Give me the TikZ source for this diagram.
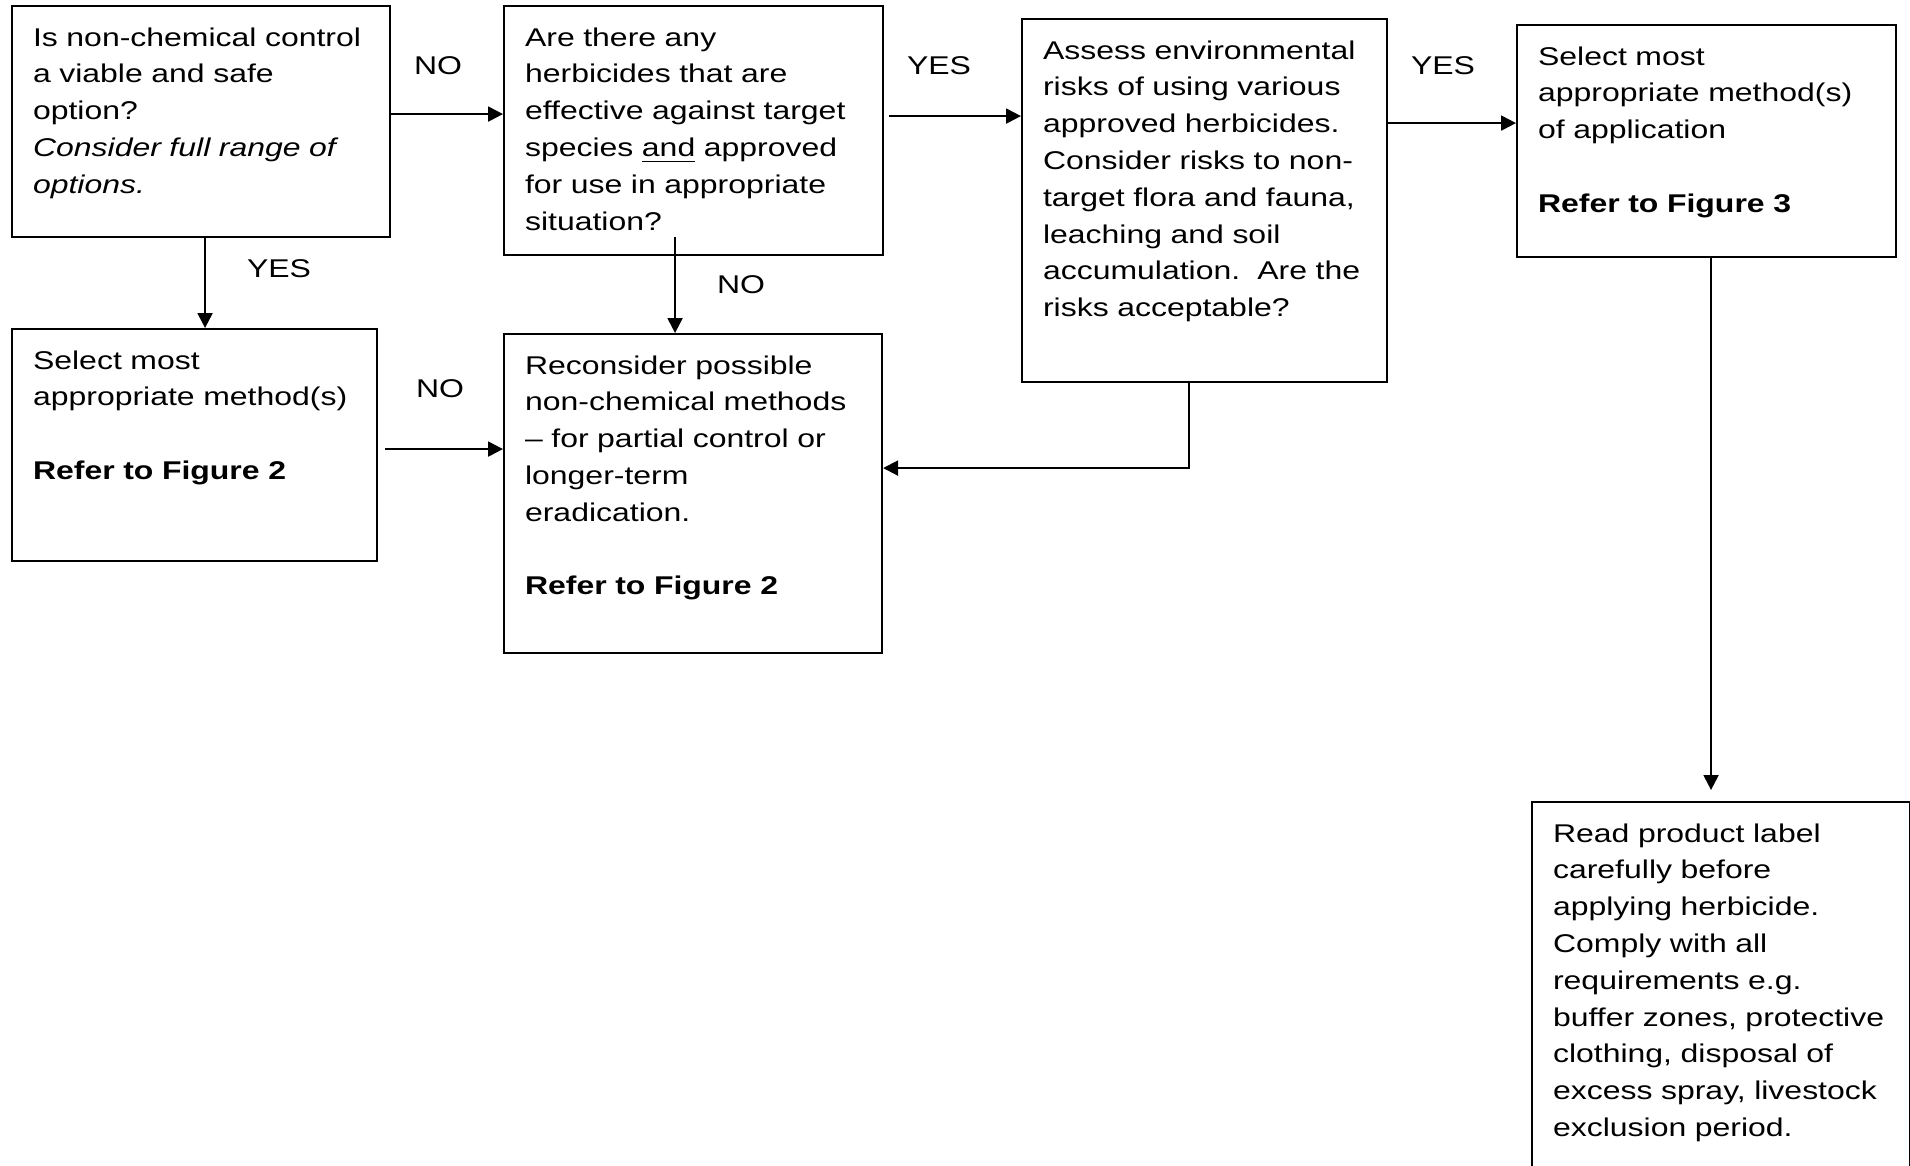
\documentclass[tikz,border=0pt]{standalone}
\usepackage{fontspec}
\setmainfont[FakeStretch=1.246]{Liberation Sans}
\usetikzlibrary{arrows.meta,calc}
\tikzset{
  basebox/.style={rectangle,draw=black,line width=0.6pt,anchor=north west,align=left,
    inner xsep=0.21cm,inner ysep=0pt,text height=0.40cm,font=\fontsize{7.3}{10.47}\selectfont},
  answer/.style={font=\fontsize{7.3}{10.47}\selectfont,inner sep=0pt},
  arr/.style={-{Triangle[length=0.15cm,width=0.15cm]},line width=0.6pt}
}
\begin{document}
\begin{tikzpicture}
  \useasboundingbox (0,0) rectangle (19.10,-11.65);
  \clip (0,0) rectangle (19.10,-11.65);

  %% Top row of questions
  \node[basebox,text width=3.36cm,text depth=1.91cm] (boxA) at (0.11,-0.05)
      {Is non-chemical control\\
       a viable and safe\\
       option?\\
       \textit{Consider full range of}\\
       \textit{options.}};

  \node[basebox,text width=3.37cm,text depth=2.09cm] (boxB) at (5.03,-0.05)
      {Are there any\\
       herbicides that are\\
       effective against target\\
       species \underline{and} approved\\
       for use in appropriate\\
       situation?};

  \node[basebox,text width=3.23cm,text depth=3.23cm] (boxC) at (10.21,-0.18)
      {Assess environmental\\
       risks of using various\\
       approved herbicides.\\
       Consider risks to non-\\
       target flora and fauna,\\
       leaching and soil\\
       accumulation.\ \ Are the\\
       risks acceptable?};

  \node[basebox,text width=3.37cm,text depth=1.92cm] (boxD) at (15.16,-0.24)
      {Select most\\
       appropriate method(s)\\
       of application\\[10.47pt]
       \textbf{Refer to Figure 3}};

  %% Second row
  \node[basebox,text width=3.23cm,text depth=1.92cm] (boxE) at (0.11,-3.28)
      {Select most\\
       appropriate method(s)\\[10.47pt]
       \textbf{Refer to Figure 2}};

  \node[basebox,text width=3.36cm,text depth=2.79cm] (boxF) at (5.03,-3.33)
      {Reconsider possible\\
       non-chemical methods\\
       -- for partial control or\\
       longer-term\\
       eradication.\\[10.47pt]
       \textbf{Refer to Figure 2}};

  %% Final step
  \node[basebox,text width=3.36cm,text depth=3.60cm] (boxG) at (15.31,-8.01)
      {Read product label\\
       carefully before\\
       applying herbicide.\\
       Comply with all\\
       requirements e.g.\\
       buffer zones, protective\\
       clothing, disposal of\\
       excess spray, livestock\\
       exclusion period.};

  %% Connectors
  \draw[arr] ([yshift=0.075cm]boxA.east) -- ([yshift=0.075cm]boxA.east -| boxB.west);
  \draw[arr] ([xshift=0.05cm,yshift=0.145cm]boxB.east) -- ([yshift=0.145cm]boxB.east -| boxC.west);
  \draw[arr] ([yshift=0.775cm]boxC.east) -- ([yshift=0.775cm]boxC.east -| boxD.west);
  \draw[arr] ([xshift=0.04cm]boxA.south) -- ([xshift=0.04cm]boxA.south |- boxE.north);
  \draw[arr] ([xshift=-0.185cm,yshift=0.19cm]boxB.south) -- ([xshift=-0.185cm]boxB.south |- boxF.north);
  \draw[arr] ([xshift=0.07cm,yshift=-0.04cm]boxE.east) -- ([yshift=-0.04cm]boxE.east -| boxF.west);
  \draw[arr] ([xshift=-0.155cm]boxC.south) |- ([yshift=0.255cm]boxF.east);
  \draw[arr,shorten >=0.11cm] ([xshift=0.045cm]boxD.south) -- ([xshift=0.045cm]boxD.south |- boxG.north);

  %% Answer labels
  \node[answer] (noAB) at (4.38,-0.66) {NO};
  \node[answer] (yesBC) at (9.39,-0.66) {YES};
  \node[answer] (yesCD) at (14.43,-0.66) {YES};
  \node[answer] (yesAE) at (2.79,-2.69) {YES};
  \node[answer] (noBF) at (7.41,-2.85) {NO};
  \node[answer] (noEF) at (4.40,-3.89) {NO};
\end{tikzpicture}
\end{document}
